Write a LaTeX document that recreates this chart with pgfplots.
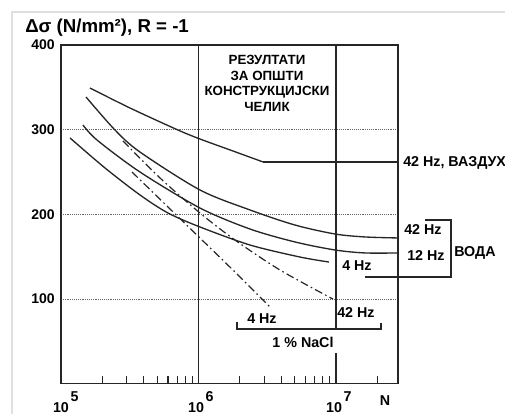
\documentclass[border=0pt]{standalone}
\usepackage{fontspec}
\setmainfont{Liberation Sans}
\usepackage{pgfplots}
\pgfplotsset{compat=1.18}
\begin{document}
\begin{tikzpicture}
\useasboundingbox (0,0) rectangle (378.75pt,-310.5pt);
\begin{axis}[
  at={(45.75pt,-287.75pt)}, anchor=south west,
  scale only axis, width=252.75pt, height=254pt,
  xmode=log, xmin=1e5, xmax=2.83e7, ymin=0, ymax=400,
  clip=false,
  axis line style={line width=1pt, black!85},
  xtick={1e5,1e6,1e7}, xticklabels={},
  minor xtick={2e5,3e5,4e5,5e5,6e5,7e5,8e5,9e5,2e6,3e6,4e6,5e6,6e6,7e6,8e6,9e6,2e7},
  tick align=inside, tick pos=left,
  major tick length=0pt, minor tick length=6pt,
  minor tick style={line width=0.8pt, black!85},
  ytick={100,200,300,400}, yticklabels={100,200,300,400},
  yticklabel style={font=\fontsize{10.5}{12}\selectfont\bfseries, xshift=-1.2pt},
  ymajorgrids, grid style={densely dotted, line width=0.7pt, black!60},
  every axis plot/.append style={line width=1pt, black!85},
]
% verticale linije 10^6 i 10^7
\draw[line width=1pt, black!85] (axis cs:1e6,0) -- (axis cs:1e6,400);
\draw[line width=1pt, black!85] (axis cs:1e7,400) -- (axis cs:1e7,64.6);
\draw[line width=1pt, black!85] (axis cs:1e7,0) -- (axis cs:1e7,36.3);

% 42 Hz, vazduh
\addplot[smooth] coordinates {(1.625e5,349.2) (3.176e5,325.6) (7.095e5,299.6) (1.025e6,289.0) (1.695e6,276.1) (2.945e6,261.9)};
\addplot[] coordinates {(2.945e6,261.9) (2.83e7,261.9)};
% 42 Hz, voda
\addplot[smooth] coordinates {(1.520e5,338.6) (2.470e5,299.6) (3.754e5,273.6) (1.025e6,228.8) (2.368e6,205.2) (5.031e6,187.4) (9.834e6,176.8) (1.625e7,173.3) (2.83e7,172.1)};
% 12 Hz, voda
\addplot[smooth] coordinates {(1.445e5,305.5) (1.827e5,287.8) (3.754e5,250.0) (1.025e6,207.5) (2.368e6,182.7) (5.031e6,167.4) (9.834e6,157.9) (1.625e7,154.4) (2.83e7,154.4)};
% 4 Hz, voda
\addplot[smooth] coordinates {(1.163e5,290.2) (2.089e5,254.8) (3.754e5,222.9) (6.0e5,201.6) (1.025e6,185.1) (2.368e6,163.8) (5.472e6,149.6) (8.893e6,143.7)};
% 1 % NaCl, 42 Hz
\addplot[smooth, dash pattern={on 6pt off 2.5pt on 1.2pt off 2.5pt}, line width=0.9pt] coordinates {(2.825e5,286.7) (5.248e5,243.0) (1.025e6,201.6) (1.843e6,169.7) (3.914e6,134.3) (9.511e6,100.0)};
% 1 % NaCl, 4 Hz
\addplot[smooth, dash pattern={on 6pt off 2.5pt on 1.2pt off 2.5pt}, line width=0.9pt] coordinates {(3.284e5,250.0) (6.0e5,208.7) (1.025e6,172.1) (1.843e6,131.9) (3.311e6,90.6)};
\end{axis}

\begin{scope}[x=0.75pt, y=-0.75pt, font=\fontsize{10.7}{12}\selectfont\bfseries]
% okvir slike
\draw[black!12, line width=0.8pt] (12,414) -- (12,12) -- (505,12);
% naslov
\node[anchor=west, inner sep=0, font=\fontsize{14}{16}\selectfont\bfseries] at (25,28) {Δσ (N/mm²), R = -1};
% tekst u polju
\node[align=center, inner sep=0, font=\fontsize{10}{11.8}\selectfont\bfseries] at (267,83.5) {РЕЗУЛТАТИ\\ЗА ОПШТИ\\КОНСТРУКЦИЈСКИ\\ЧЕЛИК};
% oznake desno
\node[anchor=west, inner sep=0] at (403,163) {42 Hz, ВАЗДУХ};
\node[anchor=west, inner sep=0] at (404,230) {42 Hz};
\node[anchor=west, inner sep=0] at (407,256) {12 Hz};
\node[anchor=west, inner sep=0] at (454,253) {ВОДА};
\node[anchor=west, inner sep=0] at (342,266) {4 Hz};
\draw[line width=0.9pt, black!85] (425,220) -- (451,220) -- (451,277) -- (365,277);
% NaCl
\node[anchor=west, inner sep=0] at (247,319) {4 Hz};
\node[anchor=west, inner sep=0] at (337,313) {42 Hz};
\node[inner sep=0] at (303,342) {1 \% NaCl};
\draw[line width=0.9pt, black!85] (237,322) -- (237,329) -- (381,329) -- (381,323);
% oznake x ose
\node[anchor=north, inner sep=0] (t5) at (61,402) {10};
\node[anchor=south west, inner sep=0] at ([xshift=0.8pt]t5.north east) {5};
\node[anchor=north, inner sep=0] (t6) at (196,402) {10};
\node[anchor=south west, inner sep=0] at ([xshift=0.8pt]t6.north east) {6};
\node[anchor=north, inner sep=0] (t7) at (334,402) {10};
\node[anchor=south west, inner sep=0] at ([xshift=0.8pt]t7.north east) {7};
\node[inner sep=0] at (385,401) {N};
\end{scope}
\end{tikzpicture}
\end{document}
